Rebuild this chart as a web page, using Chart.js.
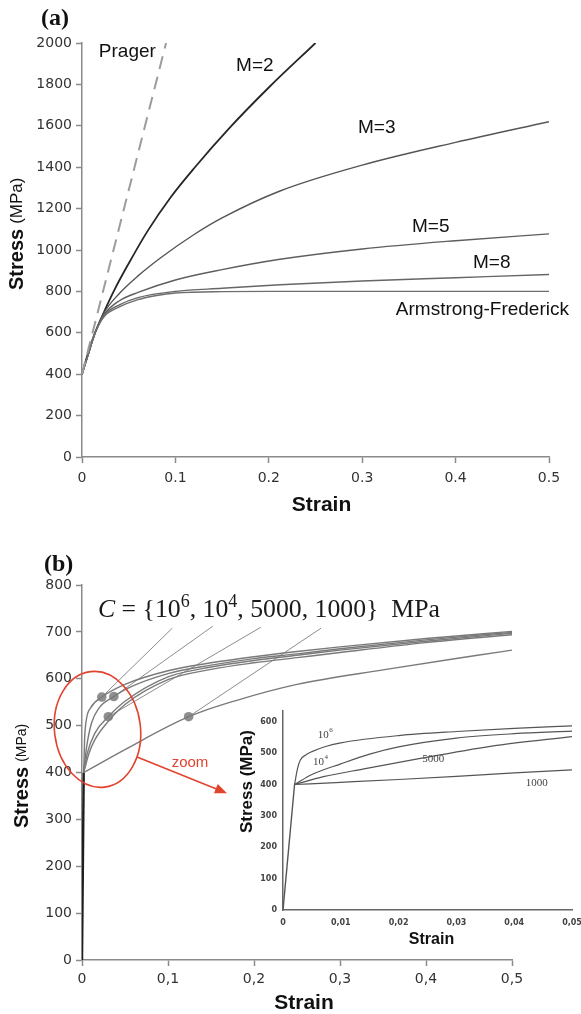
<!DOCTYPE html>
<html>
<head>
<meta charset="utf-8">
<script src="https://cdn.jsdelivr.net/npm/chart.js@4.4.1/dist/chart.umd.min.js"></script>
<style>
    html, body { margin: 0; padding: 0; background: #fff; }
    #wrap { position: relative; width: 581px; height: 1014px; overflow: hidden; background: #fff; }
    canvas { position: absolute; }
    #chart-a { left: 0; top: 0; }
    #chart-b { left: 0; top: 520px; }
    #chart-inset { left: 235px; top: 700px; }
</style>
</head>
<body>
<div id="wrap">
    <canvas id="chart-a" width="581" height="520"></canvas>
    <canvas id="chart-b" width="581" height="494"></canvas>
    <canvas id="chart-inset" width="360" height="250"></canvas>
</div>
<script>
(function () {
    'use strict';

    // ---- (a) hardening models: strain [-] / stress [MPa] ----
    const pragerStrain = [0, 0.09];
    const pragerStress = [400, 2000];
    const m2Strain = [0, 0.007, 0.014, 0.024, 0.035, 0.05, 0.07, 0.095, 0.12, 0.158, 0.2, 0.25];
    const m2Stress = [400, 510, 600, 705, 810, 935, 1090, 1255, 1395, 1590, 1785, 2000];
    const m3Strain = [0, 0.007, 0.014, 0.024, 0.04, 0.06, 0.085, 0.12, 0.15, 0.212, 0.3, 0.4, 0.5];
    const m3Stress = [400, 500, 600, 700, 790, 875, 965, 1075, 1155, 1285, 1410, 1520, 1620];
    const m5Strain = [0, 0.007, 0.014, 0.024, 0.04, 0.06, 0.1, 0.15, 0.212, 0.3, 0.4, 0.5];
    const m5Stress = [400, 500, 600, 690, 755, 795, 855, 905, 955, 1005, 1045, 1078];
    const m8Strain = [0, 0.007, 0.014, 0.024, 0.04, 0.06, 0.1, 0.15, 0.212, 0.3, 0.4, 0.5];
    const m8Stress = [400, 500, 600, 685, 735, 770, 800, 815, 832, 850, 866, 882];
    const afStrain = [0, 0.007, 0.014, 0.024, 0.04, 0.06, 0.08, 0.1, 0.15, 0.2, 0.5];
    const afStress = [400, 500, 600, 680, 725, 760, 780, 792, 799, 800, 800];

    const xTicksA = [0, 0.1, 0.2, 0.3, 0.4, 0.5];
    const yTicksA = [0, 200, 400, 600, 800, 1000, 1200, 1400, 1600, 1800, 2000];

    const labelTextA = ['Prager', 'M=2', 'M=3', 'M=5', 'M=8', 'Armstrong-Frederick'];
    const labelStrainA = [0.018, 0.165, 0.2955, 0.3533, 0.4186, 0.336];
    const labelStressA = [1957, 1889, 1589, 1111, 937, 710];

    // ---- (b) C = {1e6, 1e4, 5000, 1000} MPa, plus one more curve of the bundle ----
    const elasticStrain = [0, 0.002];
    const elasticStress = [0, 400];
    const bC6Strain = [0.002, 0.003, 0.005, 0.01, 0.023, 0.05, 0.1, 0.15, 0.2, 0.25, 0.3, 0.4, 0.5];
    const bC6Stress = [400, 470, 512, 538, 561, 588, 617, 634, 647, 658, 668, 686, 701];
    const bC4Strain = [0.002, 0.005, 0.011, 0.02, 0.037, 0.05, 0.1, 0.15, 0.2, 0.25, 0.3, 0.4, 0.5];
    const bC4Stress = [400, 450, 505, 538, 562, 577, 611, 629, 643, 653, 664, 683, 699];
    const bC5000Strain = [0.002, 0.006, 0.015, 0.0306, 0.05, 0.1, 0.15, 0.2, 0.25, 0.3, 0.4, 0.5];
    const bC5000Stress = [400, 440, 484, 519, 552, 604, 625, 639, 650, 661, 680, 697];
    const bExtraStrain = [0.002, 0.008, 0.015, 0.03, 0.05, 0.1, 0.15, 0.2, 0.25, 0.3, 0.4, 0.5];
    const bExtraStress = [400, 440, 470, 508, 545, 598, 620, 634, 645, 656, 677, 694];
    const bC1000Strain = [0.002, 0.05, 0.124, 0.18, 0.25, 0.35, 0.46, 0.5];
    const bC1000Stress = [400, 449, 519, 554, 588, 619, 650, 661];

    const dotStrain = [0.023, 0.037, 0.0306, 0.124];
    const dotStress = [561, 562, 519, 519];
    const leaderStrain = [0.105, 0.152, 0.208, 0.278];
    const leaderStress = [708, 712, 710, 708];

    const xTicksB = [0, 0.1, 0.2, 0.3, 0.4, 0.5];
    const yTicksB = [0, 100, 200, 300, 400, 500, 600, 700, 800];

    // ---- inset: first 5 % of strain ----
    const inC6Strain = [0.002, 0.0025, 0.003, 0.004, 0.005, 0.0075, 0.01, 0.02, 0.03, 0.04, 0.05];
    const inC6Stress = [400, 450, 478, 495, 505, 522, 533, 556, 569, 579, 587];
    const inC4Strain = [0.002, 0.005, 0.01, 0.015, 0.02, 0.03, 0.04, 0.05];
    const inC4Stress = [400, 432, 466, 497, 520, 548, 562, 570];
    const inC5000Strain = [0.002, 0.007, 0.014, 0.024, 0.037, 0.05];
    const inC5000Stress = [400, 425, 450, 484, 525, 553];
    const inC1000Strain = [0.002, 0.01, 0.02, 0.03, 0.04, 0.05];
    const inC1000Stress = [400, 407, 416, 426, 437, 447];

    const xTicksIn = [0, 0.01, 0.02, 0.03, 0.04, 0.05];
    const yTicksIn = [0, 100, 200, 300, 400, 500, 600];

    const labelTextIn = ['10', '10', '5000', '1000'];
    const labelSupIn = ['6', '4', '', ''];
    const labelStrainIn = [0.006, 0.0052, 0.0241, 0.042];
    const labelStressIn = [557, 472, 481, 403];

    const RED = '#e2432e';

    function pts(xs, ys) {
        return xs.map(function (x, i) { return { x: x, y: ys[i] }; });
    }

    function line(xs, ys, color, width, extra) {
        return Object.assign({
            data: pts(xs, ys),
            borderColor: color,
            borderWidth: width,
            pointRadius: 0,
            fill: false,
            cubicInterpolationMode: 'monotone'
        }, extra || {});
    }

    function straight(xs, ys, color, width, extra) {
        return line(xs, ys, color, width, Object.assign({ cubicInterpolationMode: 'default', tension: 0 }, extra || {}));
    }

    function fixedTicks(list) {
        return function (scale) {
            scale.ticks = list.map(function (v) { return { value: v }; });
        };
    }

    function fmtDot(d) {
        return function (v) { return v === 0 ? '0' : v.toFixed(d); };
    }
    function fmtComma(d) {
        return function (v) { return v === 0 ? '0' : v.toFixed(d).replace('.', ','); };
    }

    function mainAxis(min, max, list, fmt, pad, fit) {
        return {
            type: 'linear',
            min: min,
            max: max,
            afterBuildTicks: fixedTicks(list),
            afterFit: fit,
            ticks: {
                callback: fmt,
                color: '#333',
                font: { family: 'DejaVu Sans', size: 14 },
                padding: pad,
                maxRotation: 0,
                autoSkip: false
            },
            grid: { drawOnChartArea: false, color: '#8a8a8a', tickLength: 6, tickWidth: 1.5 },
            border: { color: '#8a8a8a', width: 1.5 }
        };
    }

    function drawRotated(ctx, x, y, parts) {
        ctx.save();
        ctx.translate(x, y);
        ctx.rotate(-Math.PI / 2);
        ctx.textAlign = 'left';
        ctx.textBaseline = 'middle';
        let off = 0;
        parts.forEach(function (p) {
            ctx.font = p.font;
            ctx.fillStyle = p.color || '#111';
            ctx.fillText(p.text, off, 0);
            off += ctx.measureText(p.text).width + (p.gap || 0);
        });
        ctx.restore();
    }

    function drawFormula(ctx, x, y, targetW) {
        const parts = [
            { t: 'C', style: 'italic ', sup: false },
            { t: ' = {10', style: '', sup: false },
            { t: '6', style: '', sup: true },
            { t: ', 10', style: '', sup: false },
            { t: '4', style: '', sup: true },
            { t: ', 5000, 1000}  MPa', style: '', sup: false }
        ];
        function widthAt(size) {
            let w = 0;
            parts.forEach(function (p) {
                const s = p.sup ? size * 0.7 : size;
                ctx.font = p.style + s + 'px "Liberation Serif"';
                w += ctx.measureText(p.t).width;
            });
            return w;
        }
        const size = 24 * targetW / widthAt(24);
        let off = x;
        ctx.fillStyle = '#1a1a1a';
        ctx.textAlign = 'left';
        ctx.textBaseline = 'alphabetic';
        parts.forEach(function (p) {
            const s = p.sup ? size * 0.7 : size;
            ctx.font = p.style + s + 'px "Liberation Serif"';
            ctx.fillText(p.t, off, p.sup ? y - size * 0.42 : y);
            off += ctx.measureText(p.t).width;
        });
    }

    const decor = {
        id: 'decor',
        afterDraw: function (chart, args, o) {
            const ctx = chart.ctx;
            const a = chart.chartArea;
            const sx = chart.scales.x;
            const sy = chart.scales.y;
            const px = function (v) { return sx.getPixelForValue(v); };
            const py = function (v) { return sy.getPixelForValue(v); };
            ctx.save();

            if (o.panel) {
                ctx.font = 'bold 24px "Liberation Serif"';
                ctx.fillStyle = '#111';
                ctx.textAlign = 'left';
                ctx.textBaseline = 'alphabetic';
                ctx.fillText(o.panel.text, o.panel.x, o.panel.y);
            }
            if (o.xTitle) {
                ctx.font = o.xTitle.font;
                ctx.fillStyle = '#111';
                ctx.textAlign = 'center';
                ctx.textBaseline = 'alphabetic';
                ctx.fillText('Strain', (a.left + a.right) / 2 + o.xTitle.dx, a.bottom + o.xTitle.dy);
            }
            if (o.yTitle) {
                drawRotated(ctx, o.yTitle.x, a.bottom - o.yTitle.up, o.yTitle.parts);
            }
            (o.labels || []).forEach(function (l) {
                ctx.font = l.font;
                ctx.fillStyle = l.color || '#111';
                ctx.textAlign = 'left';
                ctx.textBaseline = 'middle';
                const x0 = px(l.x), y0 = py(l.y);
                ctx.fillText(l.text, x0, y0);
                if (l.sup) {
                    const w = ctx.measureText(l.text).width;
                    ctx.font = l.supFont;
                    ctx.fillText(l.sup, x0 + w + 0.5, y0 - 5);
                }
            });
            if (o.formula) {
                drawFormula(ctx, px(o.formula.x), py(o.formula.y), o.formula.w);
            }
            if (o.ellipse) {
                const e = o.ellipse;
                ctx.strokeStyle = RED;
                ctx.lineWidth = 1.6;
                ctx.beginPath();
                ctx.ellipse(px(e.x), py(e.y), px(e.x + e.rx) - px(e.x), py(e.y) - py(e.y + e.ry), e.rot, 0, Math.PI * 2);
                ctx.stroke();
            }
            if (o.arrow) {
                const r = o.arrow;
                const x1 = px(r.x1), y1 = py(r.y1), x2 = px(r.x2), y2 = py(r.y2);
                const ang = Math.atan2(y2 - y1, x2 - x1);
                ctx.strokeStyle = RED;
                ctx.fillStyle = RED;
                ctx.lineWidth = 1.6;
                ctx.beginPath();
                ctx.moveTo(x1, y1);
                ctx.lineTo(x2 - 8 * Math.cos(ang), y2 - 8 * Math.sin(ang));
                ctx.stroke();
                ctx.beginPath();
                ctx.moveTo(x2, y2);
                ctx.lineTo(x2 - 12 * Math.cos(ang) + 5 * Math.sin(ang), y2 - 12 * Math.sin(ang) - 5 * Math.cos(ang));
                ctx.lineTo(x2 - 12 * Math.cos(ang) - 5 * Math.sin(ang), y2 - 12 * Math.sin(ang) + 5 * Math.cos(ang));
                ctx.closePath();
                ctx.fill();
                ctx.font = '15px "Liberation Sans"';
                ctx.textAlign = 'center';
                ctx.textBaseline = 'middle';
                ctx.fillText('zoom', px(r.tx), py(r.ty));
            }
            ctx.restore();
        }
    };

    const baseOpts = {
        responsive: false,
        animation: false,
        events: []
    };

    // ---------------- (a) ----------------
    new Chart(document.getElementById('chart-a'), {
        type: 'line',
        data: {
            datasets: [
                straight(pragerStrain, pragerStress, '#9c9c9c', 2, { borderDash: [13, 8] }),
                line(afStrain, afStress, '#6e6e6e', 1.4),
                line(m8Strain, m8Stress, '#666', 1.4),
                line(m5Strain, m5Stress, '#5e5e5e', 1.4),
                line(m3Strain, m3Stress, '#555', 1.4),
                line(m2Strain, m2Stress, '#262626', 1.8)
            ]
        },
        options: Object.assign({}, baseOpts, {
            layout: { padding: { left: 0, top: 43, right: 32, bottom: 0 } },
            plugins: {
                legend: { display: false },
                tooltip: { enabled: false },
                decor: {
                    panel: { text: '(a)', x: 41, y: 25 },
                    xTitle: { font: 'bold 21px "Liberation Sans"', dx: 6, dy: 54 },
                    yTitle: {
                        x: 17, up: 167,
                        parts: [
                            { text: 'Stress', font: 'bold 20px "Liberation Sans"', gap: 5 },
                            { text: '(MPa)', font: '17px "Liberation Sans"' }
                        ]
                    },
                    labels: labelTextA.map(function (t, i) {
                        return { text: t, x: labelStrainA[i], y: labelStressA[i], font: '19px "Liberation Sans"' };
                    })
                }
            },
            scales: {
                x: mainAxis(0, 0.5, xTicksA, fmtDot(1), 7, function (s) { s.height = 63; }),
                y: mainAxis(0, 2000, yTicksA, function (v) { return String(v); }, 4, function (s) { s.width = 82; })
            }
        }),
        plugins: [decor]
    });

    // ---------------- (b) ----------------
    const bColor = '#7a7a7a';
    const bDatasets = [
        line(bC1000Strain, bC1000Stress, bColor, 1.4),
        line(bExtraStrain, bExtraStress, bColor, 1.4),
        line(bC5000Strain, bC5000Stress, bColor, 1.4),
        line(bC4Strain, bC4Stress, bColor, 1.4),
        line(bC6Strain, bC6Stress, bColor, 1.4),
        straight(elasticStrain, elasticStress, '#1e1e1e', 2.4)
    ];
    dotStrain.forEach(function (x, i) {
        bDatasets.push(straight([x, leaderStrain[i]], [dotStress[i], leaderStress[i]], '#8c8c8c', 1));
    });
    bDatasets.push({
        data: pts(dotStrain, dotStress),
        showLine: false,
        pointRadius: 4.8,
        pointBorderWidth: 0,
        pointBackgroundColor: '#8f8f8f',
        borderColor: '#8f8f8f'
    });

    new Chart(document.getElementById('chart-b'), {
        type: 'line',
        data: { datasets: bDatasets },
        options: Object.assign({}, baseOpts, {
            layout: { padding: { left: 0, top: 65, right: 69, bottom: 0 } },
            plugins: {
                legend: { display: false },
                tooltip: { enabled: false },
                decor: {
                    panel: { text: '(b)', x: 44, y: 51 },
                    xTitle: { font: 'bold 21px "Liberation Sans"', dx: 7, dy: 49 },
                    yTitle: {
                        x: 22, up: 132,
                        parts: [
                            { text: 'Stress', font: 'bold 20px "Liberation Sans"', gap: 5 },
                            { text: '(MPa)', font: '14px "Liberation Sans"' }
                        ]
                    },
                    formula: { x: 0.0186, y: 731, w: 342 },
                    ellipse: { x: 0.018, y: 492, rx: 0.05, ry: 124, rot: -0.12 },
                    arrow: { x1: 0.064, y1: 433, x2: 0.1686, y2: 356, tx: 0.1256, ty: 420 }
                }
            },
            scales: {
                x: mainAxis(0, 0.5, xTicksB, fmtComma(1), 5, function (s) { s.height = 54; }),
                y: mainAxis(0, 800, yTicksB, function (v) { return String(v); }, 4, function (s) { s.width = 82; })
            }
        }),
        plugins: [decor]
    });

    // ---------------- inset ----------------
    const inColor = '#555';
    function insetAxis(min, max, list, fmt, pad, fit) {
        return {
            type: 'linear',
            min: min,
            max: max,
            afterBuildTicks: fixedTicks(list),
            afterFit: fit,
            ticks: {
                callback: fmt,
                color: '#444',
                font: { family: 'DejaVu Sans', size: 8, weight: 'bold' },
                padding: pad,
                maxRotation: 0,
                autoSkip: false
            },
            grid: { display: false, drawTicks: false },
            border: { color: '#666', width: 1.5 }
        };
    }

    new Chart(document.getElementById('chart-inset'), {
        type: 'line',
        data: {
            datasets: [
                straight(elasticStrain, elasticStress, inColor, 1.4),
                line(inC1000Strain, inC1000Stress, inColor, 1.2),
                line(inC5000Strain, inC5000Stress, inColor, 1.2),
                line(inC4Strain, inC4Stress, inColor, 1.2),
                line(inC6Strain, inC6Stress, inColor, 1.2)
            ]
        },
        options: Object.assign({}, baseOpts, {
            layout: { padding: { left: 0, top: 8, right: 23, bottom: 0 } },
            plugins: {
                legend: { display: false },
                tooltip: { enabled: false },
                decor: {
                    xTitle: { font: 'bold 16px "Liberation Sans"', dx: 4, dy: 34 },
                    yTitle: {
                        x: 12, up: 77,
                        parts: [{ text: 'Stress (MPa)', font: 'bold 17px "Liberation Sans"' }]
                    },
                    labels: labelTextIn.map(function (t, i) {
                        return {
                            text: t, sup: labelSupIn[i],
                            x: labelStrainIn[i], y: labelStressIn[i],
                            font: '11px "Liberation Serif"', supFont: '7px "Liberation Serif"',
                            color: '#444'
                        };
                    })
                }
            },
            scales: {
                x: insetAxis(0, 0.05, xTicksIn, fmtComma(2), 8, function (s) { s.height = 40; }),
                y: insetAxis(0, 635, yTicksIn, function (v) { return String(v); }, 6, function (s) { s.width = 48; })
            }
        }),
        plugins: [decor]
    });
})();
</script>
</body>
</html>
